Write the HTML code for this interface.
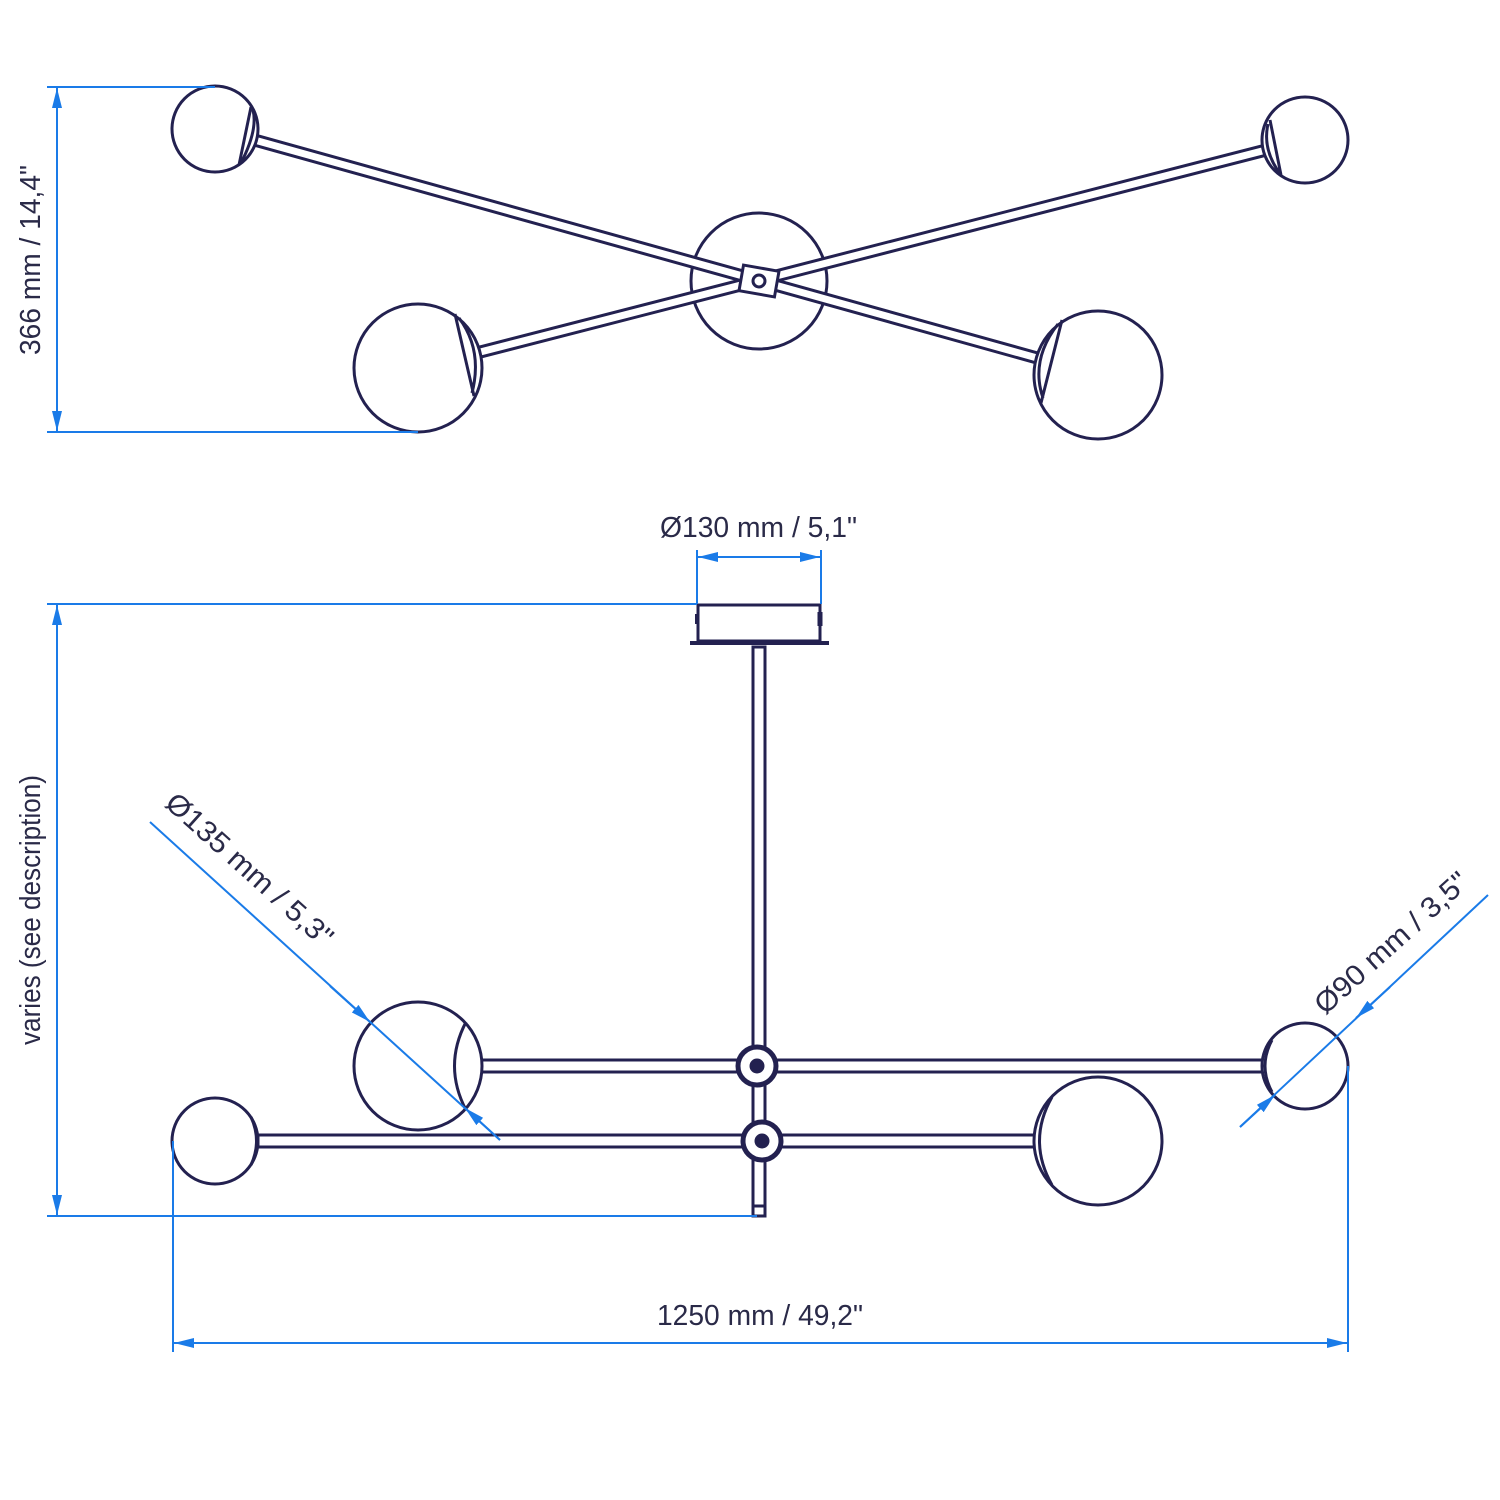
<!DOCTYPE html>
<html><head><meta charset="utf-8"><style>
html,body{margin:0;padding:0;background:#fff}
svg{display:block}
text{font-family:"Liberation Sans",sans-serif;font-size:29px;fill:#2a2a48}
</style></head><body>
<svg width="1500" height="1500" viewBox="0 0 1500 1500" xmlns="http://www.w3.org/2000/svg">
<defs>
<marker id="a" viewBox="0 0 20 10" refX="20" refY="5" markerWidth="20" markerHeight="10" markerUnits="userSpaceOnUse" orient="auto-start-reverse"><path d="M0,0 L20,5 L0,10 z" fill="#1a7be8"/></marker>
</defs>
<g fill="none" stroke="#232150" stroke-width="3">
<circle cx="759" cy="281" r="68" fill="#fff"/>
<g stroke-width="13" stroke-linecap="butt"><line x1="215" y1="129" x2="1098" y2="375"/><line x1="418" y1="368" x2="1305" y2="140"/></g>
<g stroke="#fff" stroke-width="7"><line x1="215" y1="129" x2="1098" y2="375"/><line x1="418" y1="368" x2="1305" y2="140"/></g>
<g transform="rotate(10 759 281)"><rect x="741" y="268" width="36" height="26" fill="#fff"/></g>
<circle cx="759" cy="281" r="6" fill="#fff"/>
<circle cx="215" cy="129" r="43" fill="#fff"/>
<circle cx="1305" cy="140" r="43" fill="#fff"/>
<circle cx="418" cy="368" r="64" fill="#fff"/>
<circle cx="1098" cy="375" r="64" fill="#fff"/>
<path d="M251,107 L239,165 M253,110 Q258,130 241,163" />
<path d="M1270,120 L1281,175 M1268,124 Q1262,150 1281,175"/>
<path d="M455,314 L474,396 M459,318 Q483,350 472,393"/>
<path d="M1062,320 L1041,403 M1058,324 Q1030,360 1043,398"/>
<rect x="698" y="605" width="122" height="36" fill="#fff"/>
<line x1="690" y1="643" x2="829" y2="643" stroke-width="4"/>
<line x1="697" y1="614" x2="697" y2="624" stroke-width="4"/>
<line x1="820" y1="612" x2="820" y2="626" stroke-width="5"/>
<rect x="753" y="647" width="12" height="569" fill="#fff"/>
<line x1="753" y1="1206" x2="765" y2="1206"/>
<rect x="480" y="1060" width="785" height="12" fill="#fff"/>
<rect x="258" y="1135" width="780" height="12" fill="#fff"/>
<circle cx="757" cy="1066" r="19" fill="#fff" stroke-width="5"/>
<circle cx="757" cy="1066" r="6" fill="#232150"/>
<circle cx="762" cy="1141" r="19" fill="#fff" stroke-width="5"/>
<circle cx="762" cy="1141" r="6" fill="#232150"/>
<circle cx="418" cy="1066" r="64" fill="#fff"/>
<path d="M466,1022 Q443,1066 466,1110"/>
<circle cx="1305" cy="1066" r="43" fill="#fff"/>
<path d="M1272,1040 Q1258,1066 1272,1092"/>
<circle cx="215" cy="1141" r="43" fill="#fff"/>
<path d="M251,1117 Q262,1141 251,1165"/>
<circle cx="1098" cy="1141" r="64" fill="#fff"/>
<path d="M1052,1097 Q1027,1141 1052,1185"/>
</g>
<g stroke="#1a7be8" stroke-width="2" fill="none">
<line x1="47" y1="87" x2="215" y2="87"/><line x1="47" y1="432" x2="418" y2="432"/>
<line x1="57" y1="88" x2="57" y2="431" marker-start="url(#a)" marker-end="url(#a)"/>
<line x1="47" y1="604" x2="697" y2="604"/><line x1="47" y1="1216" x2="757" y2="1216"/>
<line x1="57" y1="605" x2="57" y2="1215" marker-start="url(#a)" marker-end="url(#a)"/>
<line x1="697" y1="550" x2="697" y2="604"/><line x1="821" y1="550" x2="821" y2="604"/>
<line x1="698" y1="557" x2="820" y2="557" marker-start="url(#a)" marker-end="url(#a)"/>
<line x1="173" y1="1141" x2="173" y2="1352"/><line x1="1348" y1="1066" x2="1348" y2="1352"/>
<line x1="174" y1="1343" x2="1347" y2="1343" marker-start="url(#a)" marker-end="url(#a)"/>
<line x1="150" y1="822" x2="500" y2="1140"/>
<line x1="330" y1="986" x2="370" y2="1022" marker-end="url(#a)"/>
<line x1="500" y1="1140" x2="465" y2="1108" marker-end="url(#a)"/>
<line x1="1488" y1="895" x2="1240" y2="1127"/>
<line x1="1390" y1="987" x2="1356" y2="1018" marker-end="url(#a)"/>
<line x1="1240" y1="1127" x2="1275" y2="1095" marker-end="url(#a)"/>
</g>
<text transform="translate(40,260) rotate(-90)" x="-95" textLength="190" lengthAdjust="spacingAndGlyphs">366 mm  /  14,4"</text>
<text transform="translate(40,910) rotate(-90)" x="-135" textLength="270" lengthAdjust="spacingAndGlyphs">varies (see description)</text>
<text x="660" y="537" textLength="197" lengthAdjust="spacingAndGlyphs">Ø130 mm  /  5,1"</text>
<text x="657" y="1325" textLength="206" lengthAdjust="spacingAndGlyphs">1250 mm  /  49,2"</text>
<text transform="translate(243,877) rotate(42)" x="-107" textLength="214" lengthAdjust="spacingAndGlyphs">Ø135 mm  /  5,3"</text>
<text transform="translate(1398,950) rotate(-42)" x="-98" textLength="196" lengthAdjust="spacingAndGlyphs">Ø90 mm  /  3,5"</text>
</svg>
</body></html>
